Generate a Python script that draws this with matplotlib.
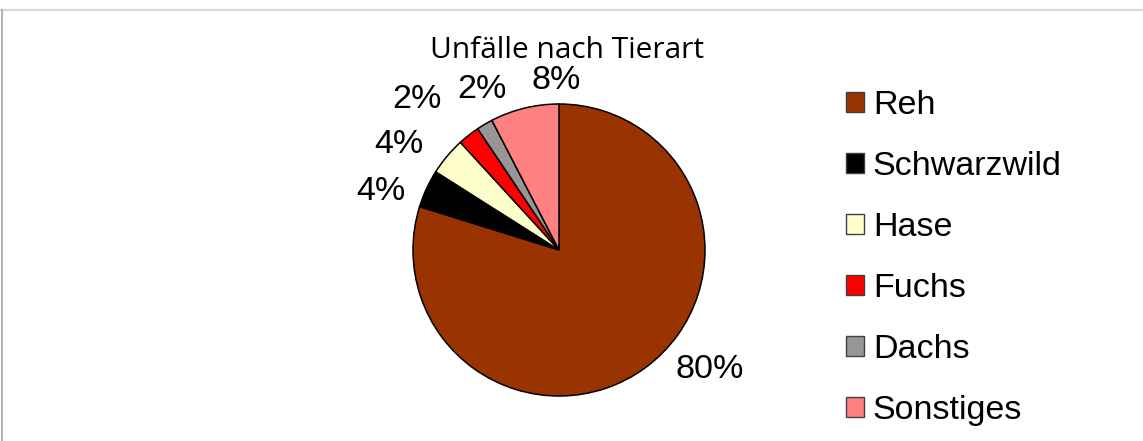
# Unfälle nach Tierart - pie chart recreation
import numpy as np
import matplotlib
matplotlib.use("Agg")
import matplotlib.pyplot as plt
from matplotlib.lines import Line2D

# data (shares, percent)
categories = ["Reh", "Schwarzwild", "Hase", "Fuchs", "Dachs", "Sonstiges"]
shares = [79.8, 4.2, 4.2, 2.4, 1.8, 7.6]
colors = ["#993300", "#000000", "#FFFFCC", "#FF0000", "#969696", "#FF8080"]

# label centres in pie units (radius = 1), Excel "best fit" placement
label_pos = [(1.03, -0.82), (-1.22, 0.40), (-1.10, 0.72),
             (-0.97, 1.03), (-0.53, 1.10), (-0.02, 1.16)]

W, H = 1143, 441
cx, cy, R = 559, 250, 146  # pie centre and radius in pixels

fig = plt.figure(figsize=(W / 100, H / 100), dpi=100)
ax = fig.add_axes([0, 0, 1, 1])

wedges, _ = ax.pie(shares, colors=colors, startangle=90, counterclock=False,
                   radius=1, center=(0, 0), frame=True,
                   wedgeprops=dict(edgecolor="black", linewidth=1.1))
ax.set_xlim(-cx / R, (W - cx) / R)
ax.set_ylim(-(H - cy) / R, cy / R)
ax.set_aspect("auto")
ax.axis("off")

for val, (lx, ly) in zip(shares, label_pos):
    ax.text(lx, ly, f"{val:.0f}%", ha="center", va="center",
            fontsize=24.5, family="Liberation Sans")

fig.text(567 / W, 1 - 50 / H, "Unfälle nach Tierart", ha="center", va="center",
         fontsize=21.5, family="Open Sans")

leg = fig.legend(wedges, categories, loc="center left",
                 bbox_to_anchor=(846 / W, 1 - 258 / H), frameon=False,
                 prop=dict(family="Liberation Sans", size=24.5),
                 handlelength=0.53, handleheight=0.53, handletextpad=0.26,
                 labelspacing=0.885, borderpad=0, borderaxespad=0)
for h in leg.legend_handles:
    h.set_edgecolor("#404040")
    h.set_linewidth(1.0)

# thin grey frame lines (top and left)
fig.add_artist(Line2D([0, 1], [1 - 9.5 / H, 1 - 9.5 / H], color="#d9d9d9", lw=1.6))
fig.add_artist(Line2D([1.5 / W, 1.5 / W], [0, 1 - 10 / H], color="#a6a6a6", lw=1.2))

fig.savefig("out.png", dpi=100)
